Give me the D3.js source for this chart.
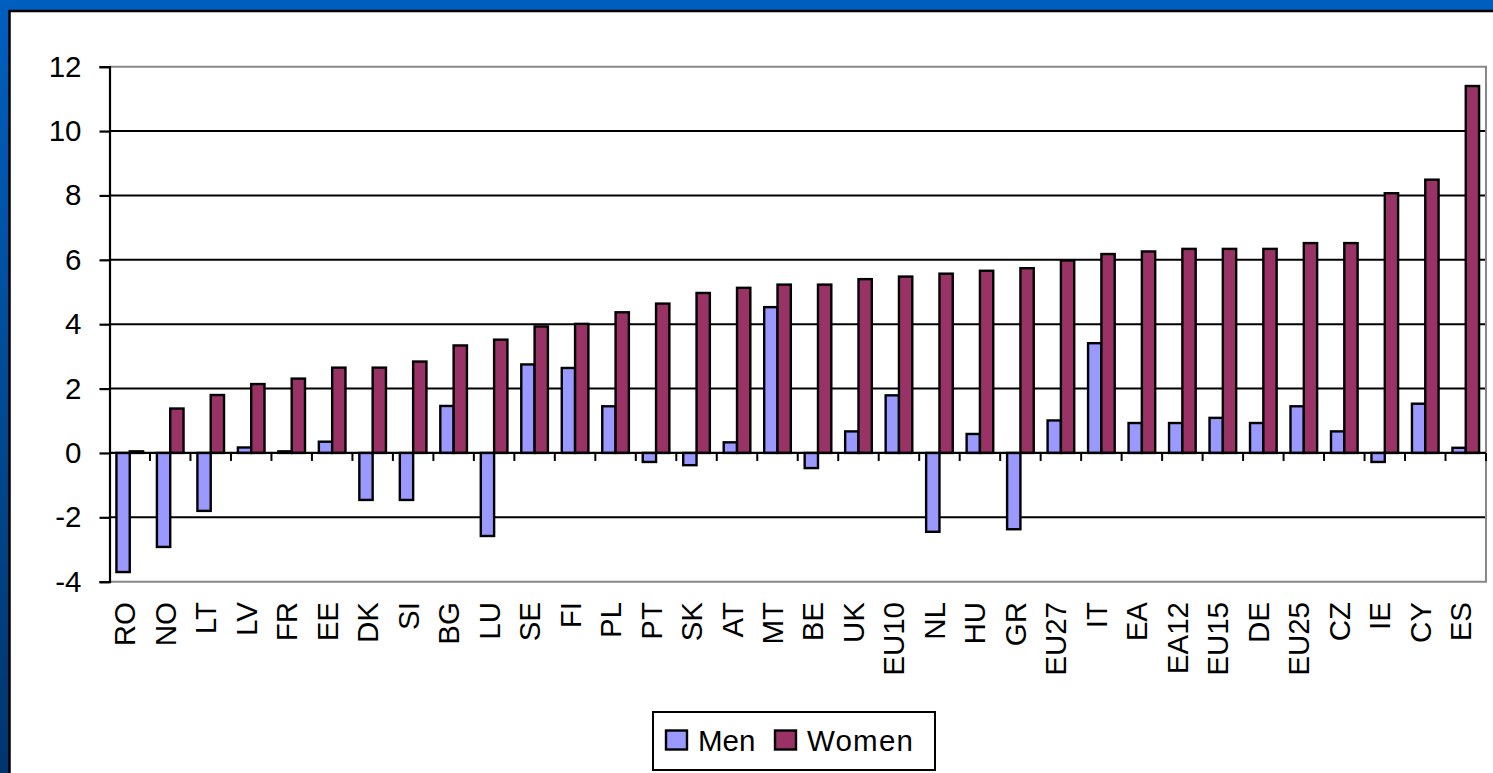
<!DOCTYPE html>
<html>
<head>
<meta charset="utf-8">
<script src="https://cdn.jsdelivr.net/npm/d3@7"></script>
<style>
  body { margin: 0; overflow: hidden; background: #fff; }
  text { font-family: "Liberation Sans", Arial, sans-serif; fill: #000; }
</style>
</head>
<body>
<div id="chart"></div>
<script>
// data
var countries = ["RO","NO","LT","LV","FR","EE","DK","SI","BG","LU","SE","FI","PL","PT","SK","AT","MT",
  "BE","UK","EU10","NL","HU","GR","EU27","IT","EA","EA12","EU15","DE","EU25","CZ","IE","CY","ES"];
var men = [-3.7,-2.92,-1.8,0.17,0.05,0.35,-1.46,-1.46,1.46,-2.58,2.75,2.64,1.45,-0.28,-0.38,0.33,4.53,
  -0.47,0.67,1.79,-2.45,0.59,-2.37,1.01,3.41,0.93,0.93,1.09,0.93,1.45,0.67,-0.28,1.53,0.16];
var women = [0.05,1.38,1.8,2.14,2.31,2.65,2.65,2.84,3.34,3.52,3.93,4.01,4.37,4.64,4.97,5.13,5.23,
  5.23,5.4,5.48,5.57,5.66,5.74,5.98,6.18,6.26,6.34,6.34,6.34,6.52,6.52,8.07,8.49,11.4];
var yTicks = [-4,-2,0,2,4,6,8,10,12];
var seriesNames = ["Men","Women"];
var seriesColors = ["#9999ff","#993366"];

var width = 1493, height = 773;
var plotLeft = 109.5, plotRight = 1486, plotTop = 66.7, plotBottom = 581.7;

var svg = d3.select("#chart").append("svg")
  .attr("width", width)
  .attr("height", height);

// blue frame behind the white panel
var grad = svg.append("defs").append("linearGradient")
  .attr("id", "frame").attr("x1", 0).attr("y1", 0).attr("x2", 0).attr("y2", 1);
grad.append("stop").attr("offset", "0%").attr("stop-color", "#005fbf");
grad.append("stop").attr("offset", "100%").attr("stop-color", "#00356c");

svg.append("rect").attr("width", width).attr("height", height).attr("fill", "url(#frame)");
svg.append("rect")
  .attr("x", 9.5).attr("y", 11)
  .attr("width", width + 20).attr("height", height + 20)
  .attr("fill", "#fff").attr("stroke", "#000").attr("stroke-width", 2.5);

var x = d3.scaleBand().domain(countries).range([plotLeft, plotRight]);
var xs = d3.scaleBand().domain(seriesNames).range([0, x.bandwidth()]).paddingOuter(0.52);
var y = d3.scaleLinear().domain([-4, 12]).range([plotBottom, plotTop]);

// gridlines
svg.append("g").selectAll("line")
  .data(yTicks.filter(function(d) { return d > -4 && d < 12; }))
  .enter().append("line")
    .attr("x1", plotLeft).attr("x2", plotRight)
    .attr("y1", function(d) { return y(d); })
    .attr("y2", function(d) { return y(d); })
    .attr("stroke", "#000").attr("stroke-width", 2);

// plot border (gray top, right, bottom)
svg.append("path")
  .attr("d", "M" + plotLeft + "," + y(12) + "H" + plotRight + "V" + y(-4) + "H" + plotLeft)
  .attr("fill", "none").attr("stroke", "#888").attr("stroke-width", 2);

// bars
var rows = countries.map(function(c, i) { return { c: c, Men: men[i], Women: women[i] }; });
var groups = svg.append("g").selectAll("g")
  .data(rows)
  .enter().append("g")
    .attr("transform", function(d) { return "translate(" + x(d.c) + ",0)"; });

groups.selectAll("rect")
  .data(function(d) { return seriesNames.map(function(k, j) { return { k: k, v: d[k], j: j }; }); })
  .enter().append("rect")
    .attr("x", function(d) { return xs(d.k); })
    .attr("width", xs.bandwidth())
    .attr("y", function(d) { return y(Math.max(0, d.v)); })
    .attr("height", function(d) { return Math.abs(y(d.v) - y(0)); })
    .attr("fill", function(d) { return seriesColors[d.j]; })
    .attr("stroke", "#000").attr("stroke-width", 2.4);

// y axis, plain hyphen for negatives as in the original
var yAxis = svg.append("g")
  .attr("transform", "translate(" + plotLeft + ",0)")
  .call(d3.axisLeft(y).tickValues(yTicks).tickSize(10).tickPadding(18)
    .tickFormat(function(d) { return String(d); }));
yAxis.select(".domain").attr("stroke", "#000").attr("stroke-width", 2.2);
yAxis.selectAll(".tick line").attr("stroke", "#000").attr("stroke-width", 2.2);
yAxis.selectAll(".tick text")
  .attr("font-family", "Liberation Sans, Arial, sans-serif")
  .attr("font-size", 29.5).attr("fill", "#000");

// zero line with category ticks
svg.append("line")
  .attr("x1", plotLeft).attr("x2", plotRight)
  .attr("y1", y(0)).attr("y2", y(0))
  .attr("stroke", "#000").attr("stroke-width", 2.2);
svg.append("g").selectAll("line")
  .data(countries.slice(1).map(function(c) { return x(c); }).concat([plotRight]))
  .enter().append("line")
    .attr("x1", function(d) { return d; }).attr("x2", function(d) { return d; })
    .attr("y1", y(0)).attr("y2", y(0) + 8)
    .attr("stroke", "#000").attr("stroke-width", 2);

// category labels
svg.append("g").selectAll("text")
  .data(countries)
  .enter().append("text")
    .attr("transform", function(d) {
      return "translate(" + (x(d) + x.bandwidth() / 2 + 5.5) + ",602) rotate(-90)";
    })
    .attr("text-anchor", "end")
    .attr("font-size", 29.5)
    .text(function(d) { return d; });

// legend
var legend = svg.append("g").attr("transform", "translate(653,712)");
legend.append("rect")
  .attr("width", 282).attr("height", 58)
  .attr("fill", "#fff").attr("stroke", "#000").attr("stroke-width", 2);
var legendX = [13, 122];
var items = legend.selectAll("g.item")
  .data(seriesNames)
  .enter().append("g")
    .attr("class", "item")
    .attr("transform", function(d, i) { return "translate(" + legendX[i] + ",0)"; });
items.append("rect")
  .attr("y", 18.5).attr("width", 21).attr("height", 19)
  .attr("fill", function(d, i) { return seriesColors[i]; })
  .attr("stroke", "#000").attr("stroke-width", 2.4);
items.append("text")
  .attr("x", 32).attr("y", 39)
  .attr("font-size", 29.5)
  .attr("letter-spacing", function(d, i) { return i ? 1.2 : 0; })
  .text(function(d) { return d; });
</script>
</body>
</html>
